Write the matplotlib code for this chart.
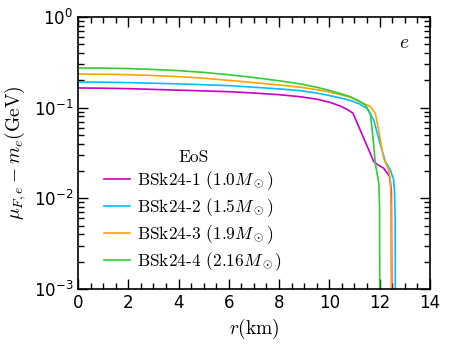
import matplotlib
matplotlib.use("Agg")
import matplotlib.pyplot as plt
from matplotlib.ticker import MultipleLocator, LogLocator, NullFormatter

# Data (r in km, mu_F,e - m_e in GeV)
r1 = [0, 1, 2, 3, 4, 5, 6, 7, 8, 8.84, 9.5, 10, 10.44, 10.7, 10.94, 11.37, 11.77, 11.95, 12.16, 12.4, 12.47, 12.49]
v1 = [0.165, 0.164, 0.162, 0.159, 0.156, 0.153, 0.150, 0.145, 0.139, 0.132, 0.124, 0.115, 0.104, 0.096, 0.087, 0.046, 0.0254, 0.0232, 0.0215, 0.0174, 0.012, 0.0005]

r2 = [0, 1, 2, 3, 4, 5, 6, 7, 8, 8.84, 9.5, 10, 10.44, 10.84, 11.2, 11.5, 11.77, 12.0, 12.23, 12.43, 12.56, 12.6, 12.62, 12.63]
v2 = [0.192, 0.191, 0.189, 0.186, 0.183, 0.179, 0.175, 0.168, 0.161, 0.154, 0.145, 0.136, 0.128, 0.120, 0.110, 0.098, 0.073, 0.042, 0.0254, 0.0206, 0.016, 0.0114, 0.006, 0.0005]

r3 = [0, 1, 2, 3, 4, 5, 6, 7, 8, 8.84, 9.5, 10, 10.44, 10.84, 11.24, 11.63, 11.83, 12.0, 12.16, 12.36, 12.43, 12.46, 12.47]
v3 = [0.235, 0.234, 0.231, 0.226, 0.220, 0.211, 0.200, 0.189, 0.178, 0.168, 0.158, 0.149, 0.139, 0.130, 0.115, 0.103, 0.087, 0.050, 0.0277, 0.0206, 0.016, 0.008, 0.0005]

r4 = [0, 1, 2, 3, 4, 5, 6, 7, 8, 8.84, 9.5, 10, 10.44, 10.84, 11.2, 11.43, 11.63, 11.73, 11.83, 11.97, 12.0, 12.01]
v4 = [0.274, 0.273, 0.270, 0.264, 0.256, 0.245, 0.231, 0.215, 0.198, 0.183, 0.168, 0.155, 0.143, 0.132, 0.118, 0.107, 0.087, 0.050, 0.0244, 0.0147, 0.008, 0.0005]

labels = [r"BSk24-1 $(1.0M_\odot)$", r"BSk24-2 $(1.5M_\odot)$",
          r"BSk24-3 $(1.9M_\odot)$", r"BSk24-4 $(2.16M_\odot)$"]
colors = ["#c800c8", "#00bfff", "#ffa500", "#33cc33"]

plt.rcParams['mathtext.fontset'] = 'cm'

fig = plt.figure(figsize=(4.51, 3.48), dpi=100)
ax = fig.add_axes([0.173, 0.170, 0.780, 0.781])

for rr, vv, lab, c in zip([r1, r2, r3, r4], [v1, v2, v3, v4], labels, colors):
    ax.plot(rr, vv, color=c, lw=1.2, label=lab)

ax.set_yscale('log')
ax.set_xlim(0, 14)
ax.set_ylim(1e-3, 1)
ax.xaxis.set_major_locator(MultipleLocator(2))
ax.xaxis.set_minor_locator(MultipleLocator(0.5))
ax.yaxis.set_major_locator(LogLocator(base=10, numticks=10))
ax.yaxis.set_minor_locator(LogLocator(base=10, subs=range(2, 10), numticks=20))
ax.yaxis.set_minor_formatter(NullFormatter())
ax.tick_params(which='both', direction='in', top=True, right=True, labelsize=12)
ax.tick_params(which='major', length=7, width=1)
ax.tick_params(which='minor', length=4, width=1)
for s in ax.spines.values():
    s.set_linewidth(1.2)
for t in ax.get_yticklabels():
    t.set_math_fontfamily('dejavusans')

ax.set_xlabel(r"$r(\mathrm{km})$", fontsize=14)
ax.set_ylabel(r"$\mu_{F,e}-m_e(\mathrm{GeV})$", fontsize=14)
ax.text(13.0, 0.52, r"$e$", fontsize=14, ha='center', va='center')

leg = ax.legend(loc='lower left', bbox_to_anchor=(0.03, 0.0), frameon=False,
                title="EoS", prop={'family': 'cmr10', 'size': 12.5},
                handlelength=1.5, handletextpad=0.4, labelspacing=0.25)
leg.get_title().set_fontfamily('cmr10')
leg.get_title().set_fontsize(12.5)

fig.savefig("out.png", dpi=100)
